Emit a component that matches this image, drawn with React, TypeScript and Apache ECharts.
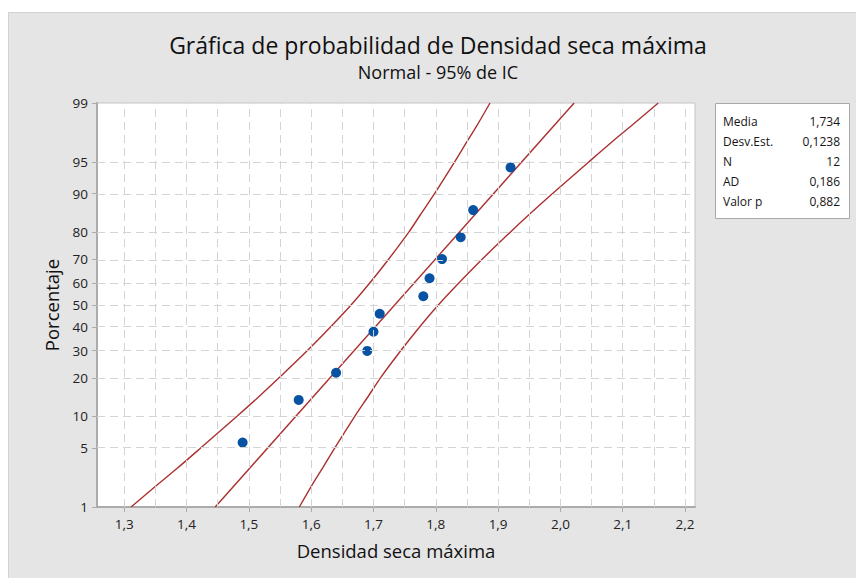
import React, { useEffect, useRef } from "react";
import * as echarts from "echarts";

// ---- data ----
const sampleX = [1.49, 1.58, 1.64, 1.69, 1.70, 1.71, 1.78, 1.79, 1.81, 1.84, 1.86, 1.92];
const samplePct = [5.65, 13.71, 21.77, 29.84, 37.9, 45.97, 54.03, 62.1, 70.16, 78.23, 86.29, 94.35];

const fitPct = [1, 99];
const fitX = [1.446, 2.022];

const ciPct = [1, 2, 3, 5, 10, 15, 20, 30, 40, 50, 60, 70, 80, 85, 90, 95, 97, 98, 99];
const ciLowerX = [1.311, 1.356, 1.385, 1.423, 1.481, 1.519, 1.548, 1.594, 1.631, 1.664, 1.694, 1.724, 1.757, 1.775, 1.798, 1.830, 1.850, 1.865, 1.887];
const ciUpperX = [1.581, 1.603, 1.618, 1.638, 1.670, 1.693, 1.711, 1.744, 1.774, 1.804, 1.837, 1.874, 1.920, 1.949, 1.987, 2.045, 2.083, 2.112, 2.157];

const xTicks = [1.3, 1.4, 1.5, 1.6, 1.7, 1.8, 1.9, 2.0, 2.1, 2.2];
const xGrid = [1.3, 1.35, 1.4, 1.45, 1.5, 1.55, 1.6, 1.65, 1.7, 1.75, 1.8, 1.85, 1.9, 1.95, 2.0, 2.05, 2.1, 2.15, 2.2];
const yTicks = [1, 5, 10, 20, 30, 40, 50, 60, 70, 80, 90, 95, 99];
const yGrid = [5, 10, 20, 30, 40, 50, 60, 70, 80, 90, 95];

const statLabels = ["Media", "Desv.Est.", "N", "AD", "Valor p"];
const statValues = ["1,734", "0,1238", "12", "0,186", "0,882"];

const titleText = "Gráfica de probabilidad de Densidad seca máxima";
const subtitleText = "Normal - 95% de IC";

// ---- normal probability scale (inverse standard normal CDF) ----
function normInv(p: number): number {
  const a = [-3.969683028665376e1, 2.209460984245205e2, -2.759285104469687e2, 1.38357751867269e2, -3.066479806614716e1, 2.506628277459239];
  const b = [-5.447609879822406e1, 1.615858368580409e2, -1.556989798598866e2, 6.680131188771972e1, -1.328068155288572e1];
  const c = [-7.784894002430293e-3, -3.223964580411365e-1, -2.400758277161838, -2.549732539343734, 4.374664141464968, 2.938163982698783];
  const d = [7.784695709041462e-3, 3.224671290700398e-1, 2.445134137142996, 3.754408661907416];
  const plow = 0.02425;
  const phigh = 1 - plow;
  if (p < plow) {
    const q = Math.sqrt(-2 * Math.log(p));
    return (((((c[0] * q + c[1]) * q + c[2]) * q + c[3]) * q + c[4]) * q + c[5]) / ((((d[0] * q + d[1]) * q + d[2]) * q + d[3]) * q + 1);
  }
  if (p <= phigh) {
    const q = p - 0.5;
    const r = q * q;
    return ((((((a[0] * r + a[1]) * r + a[2]) * r + a[3]) * r + a[4]) * r + a[5]) * q) / (((((b[0] * r + b[1]) * r + b[2]) * r + b[3]) * r + b[4]) * r + 1);
  }
  const q = Math.sqrt(-2 * Math.log(1 - p));
  return -(((((c[0] * q + c[1]) * q + c[2]) * q + c[3]) * q + c[4]) * q + c[5]) / ((((d[0] * q + d[1]) * q + d[2]) * q + d[3]) * q + 1);
}
const zOf = (pct: number) => normInv(pct / 100);

const FONT = "'Open Sans', 'Noto Sans', sans-serif";
const LINE_RED = "#ab3030";
const GRID_COLOR = "#d4d4d4";
const TEXT_DARK = "#111111";

export default function App() {
  const ref = useRef<HTMLDivElement>(null);

  useEffect(() => {
    if (!ref.current) return;
    const chart = echarts.init(ref.current, undefined, { renderer: "svg" });

    const fmtX = (v: number) => v.toFixed(1).replace(".", ",");
    const fmtY = (v: number) => {
      const p = yTicks.find((t) => Math.abs(zOf(t) - v) < 1e-6);
      return p === undefined ? "" : String(p);
    };

    const statRows: any[] = [];
    statLabels.forEach((lab, i) => {
      statRows.push({
        type: "text",
        x: 723,
        y: 121 + i * 20,
        style: { text: lab, fill: "#151515", font: `12px ${FONT}`, textVerticalAlign: "middle", textAlign: "left" },
      });
      statRows.push({
        type: "text",
        x: 840,
        y: 121 + i * 20,
        style: { text: statValues[i], fill: "#151515", font: `12px ${FONT}`, textVerticalAlign: "middle", textAlign: "right" },
      });
    });

    const option: any = {
      animation: false,
      backgroundColor: "transparent",
      textStyle: { fontFamily: FONT },
      grid: {
        left: 97,
        right: 161,
        top: 103,
        bottom: 71,
        show: true,
        backgroundColor: "#ffffff",
        borderColor: "#c4c4c4",
        borderWidth: 1,
      },
      graphic: [
        {
          type: "text",
          x: 438,
          y: 45,
          style: { text: titleText, fill: TEXT_DARK, font: `23px ${FONT}`, textAlign: "center", textVerticalAlign: "middle" },
        },
        {
          type: "text",
          x: 438,
          y: 72,
          style: { text: subtitleText, fill: TEXT_DARK, font: `18px ${FONT}`, textAlign: "center", textVerticalAlign: "middle" },
        },
        {
          type: "rect",
          shape: { x: 715.5, y: 103.5, width: 134, height: 115 },
          style: { fill: "#ffffff", stroke: "#a8a8a8", lineWidth: 1 },
        },
        ...statRows,
      ],
      xAxis: {
        type: "value",
        min: 1.2563,
        max: 2.216,
        name: "Densidad seca máxima",
        nameLocation: "middle",
        nameGap: 34,
        nameTextStyle: { fontSize: 18.5, color: TEXT_DARK, fontFamily: FONT },
        axisLine: { show: true, onZero: false, lineStyle: { color: "#ababab", width: 2 } },
        axisTick: { show: true, length: 5, customValues: xTicks, lineStyle: { color: "#ababab" } },
        axisLabel: { customValues: xTicks, formatter: fmtX, fontSize: 13.5, color: "#222222", margin: 10, fontFamily: FONT },
        splitLine: { show: false },
      },
      yAxis: {
        type: "value",
        min: zOf(1),
        max: zOf(99),
        name: "Porcentaje",
        nameLocation: "middle",
        nameGap: 36,
        nameTextStyle: { fontSize: 18.5, color: TEXT_DARK, fontFamily: FONT },
        axisLine: { show: true, onZero: false, lineStyle: { color: "#ababab", width: 2 } },
        axisTick: { show: true, length: 5, customValues: yTicks.map(zOf), lineStyle: { color: "#ababab" } },
        axisLabel: { customValues: yTicks.map(zOf), formatter: fmtY, fontSize: 13.5, color: "#222222", margin: 9, fontFamily: FONT },
        splitLine: { show: false },
      },
      series: [
        {
          name: "grid",
          type: "line",
          data: [],
          z: 1,
          silent: true,
          markLine: {
            silent: true,
            symbol: ["none", "none"],
            label: { show: false },
            lineStyle: { color: GRID_COLOR, type: [8, 5], width: 1 },
            data: [...xGrid.map((v) => ({ xAxis: v })), ...yGrid.map((p) => ({ yAxis: zOf(p) }))],
          },
        },
        {
          name: "IC inferior",
          type: "line",
          data: ciPct.map((p, i) => [ciLowerX[i], zOf(p)]),
          showSymbol: false,
          smooth: 0.3,
          lineStyle: { color: LINE_RED, width: 1.4 },
          z: 3,
        },
        {
          name: "IC superior",
          type: "line",
          data: ciPct.map((p, i) => [ciUpperX[i], zOf(p)]),
          showSymbol: false,
          smooth: 0.3,
          lineStyle: { color: LINE_RED, width: 1.4 },
          z: 3,
        },
        {
          name: "Ajuste",
          type: "line",
          data: fitPct.map((p, i) => [fitX[i], zOf(p)]),
          showSymbol: false,
          lineStyle: { color: LINE_RED, width: 1.4 },
          z: 3,
        },
        {
          name: "Densidad seca máxima",
          type: "scatter",
          data: samplePct.map((p, i) => [sampleX[i], zOf(p)]),
          symbolSize: 10,
          itemStyle: { color: "#0852a3", opacity: 1 },
          z: 4,
        },
      ],
    };

    chart.setOption(option);
    return () => chart.dispose();
  }, []);

  return (
    <div style={{ position: "absolute", left: 0, top: 0, width: 856, height: 578, background: "#ffffff" }}>
      <div
        style={{
          position: "absolute",
          left: 8,
          top: 12,
          width: 848,
          height: 566,
          background: "#e5e5e5",
          borderLeft: "1px solid #d2d2d2",
          borderTop: "1px solid #d2d2d2",
          boxSizing: "border-box",
        }}
      />
      <div ref={ref} style={{ position: "absolute", left: 0, top: 0, width: 856, height: 578 }} />
    </div>
  );
}
